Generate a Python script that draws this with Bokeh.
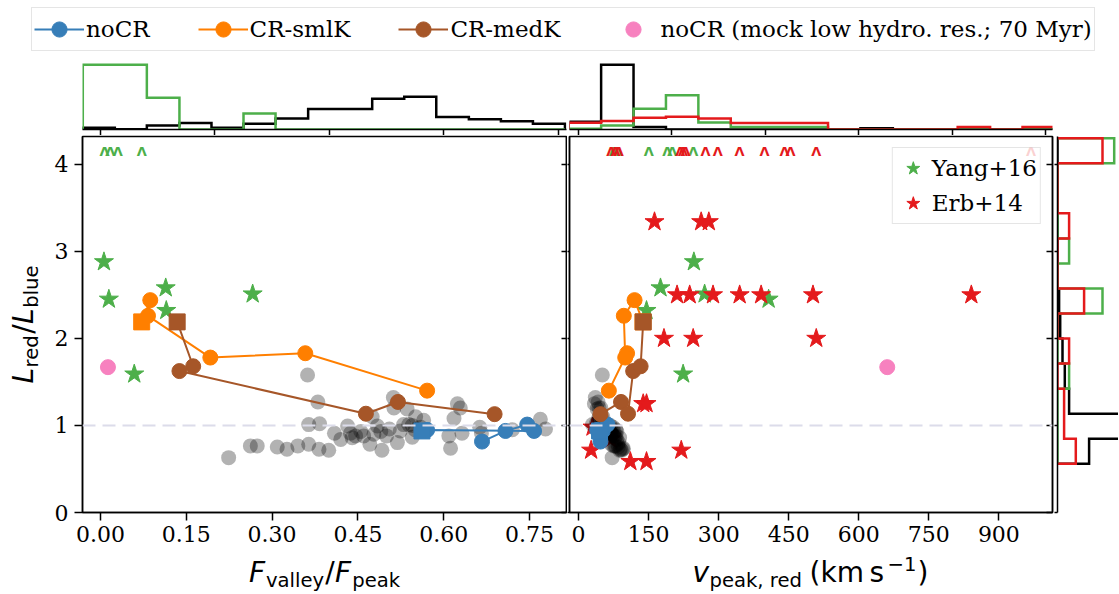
import numpy as np
from bokeh.plotting import figure
from bokeh.models import (Range1d, FixedTicker, PrintfTickFormatter, LinearAxis,
                          Legend, LegendItem, Span)
from bokeh.layouts import column, row
from bokeh.embed import file_html
from bokeh.resources import INLINE
from bokeh.core.properties import value

SERIF = "DejaVu Serif"
SANS = "DejaVu Sans"

C_NOCR = "#377eb8"
C_SML = "#ff7f00"
C_MED = "#a65628"
C_PINK = "#f781bf"
C_YANG = "#4daf4a"
C_ERB = "#e41a1c"

# ---------------- data ----------------
# simulation tracks (last point of each track = square marker)
nocr_fv = [0.667, 0.708, 0.746, 0.758, 0.571, 0.562]
nocr_v = [47, 52, 62, 43, 40, 45]
nocr_lr = [0.815, 0.937, 1.01, 0.937, 0.948, 0.937]

sml_fv = [0.571, 0.358, 0.192, 0.083, 0.087, 0.072]
sml_v = [65, 104, 100, 97, 120, 138]
sml_lr = [1.40, 1.83, 1.78, 2.26, 2.44, 2.19]

med_fv = [0.689, 0.520, 0.464, 0.138, 0.162, 0.134]
med_v = [47, 91, 106, 117, 133, 138.5]
med_lr = [1.13, 1.27, 1.135, 1.625, 1.68, 2.19]

# mock low resolution noCR
mock_fv = [0.013]
mock_v = [661]
mock_lr = [1.67]

# individual simulation snapshots (grey)
snap_fv = [0.224, 0.262, 0.274, 0.309, 0.326, 0.345, 0.364, 0.382, 0.399, 0.362,
           0.380, 0.364, 0.383, 0.409, 0.420, 0.432, 0.437, 0.446, 0.460, 0.471,
           0.475, 0.478, 0.484, 0.492, 0.500, 0.512, 0.513, 0.519, 0.524, 0.530,
           0.536, 0.539, 0.545, 0.551, 0.565, 0.609, 0.612, 0.618, 0.624, 0.629,
           0.632, 0.663, 0.666, 0.720, 0.769, 0.778, 0.545, 0.560, 0.550, 0.490,
           0.505, 0.455, 0.440]
snap_lr = [0.63, 0.765, 0.765, 0.753, 0.727, 0.765, 0.784, 0.727, 0.716, 1.58,
           1.27, 1.01, 1.02, 0.91, 0.84, 0.994, 0.91, 0.88, 0.88, 0.784,
           1.10, 0.899, 0.994, 0.716, 0.88, 1.32, 1.20, 0.803, 0.937, 1.01,
           1.19, 1.01, 0.864, 1.10, 1.06, 0.88, 0.738, 1.08, 1.25, 1.20,
           0.91, 0.98, 0.91, 0.95, 1.07, 0.96, 1.00, 0.98, 0.95, 0.93,
           0.96, 0.93, 0.86]
snap_v = [72, 80, 78, 85, 90, 75, 70, 95, 88, 51,
          42, 30, 38, 65, 82, 60, 70, 76, 68, 84,
          45, 72, 58, 92, 80, 36, 48, 86, 66, 55,
          40, 62, 78, 52, 46, 74, 96, 50, 34, 44,
          70, 56, 64, 60, 42, 54, 68, 74, 80, 76,
          70, 82, 88]

# Yang+16 observations
yang_fv = [0.006, 0.0146, 0.114, 0.115, 0.266, 0.059]
yang_v = [247, 407, 175.5, 145.6, 270, 224]
yang_lr = [2.88, 2.45, 2.58, 2.32, 2.51, 1.59]
yang_lim_fv = [0.007, 0.017, 0.030, 0.072]
yang_lim_v = [75.6, 84, 150.5, 190, 200.6, 245.5]

# Erb+14 observations
erb_v = [162.7, 262.6, 279, 211, 238, 288, 345, 391, 502, 841,
         183, 245.5, 509, 138.5, 145.6, 220, 27, 111, 145.6, 68.5, 30]
erb_lr = [3.34, 3.34, 3.34, 2.50, 2.50, 2.50, 2.50, 2.50, 2.50, 2.50,
          2.0, 2.0, 2.0, 1.25, 1.25, 0.715, 0.715, 0.585, 0.585, 0.84, 0.98]
erb_lim_v = [70, 79, 86, 218, 224, 229, 272, 298, 345, 398, 441, 454, 509, 969]
LIM_Y = 4.15   # where the limits are drawn

# histograms (step)
h_fv_edges = [-0.031, 0.025, 0.081, 0.138, 0.194, 0.250, 0.306, 0.363, 0.419,
              0.475, 0.531, 0.587, 0.644, 0.700, 0.756, 0.812]
h_fv_sim = [0.17, 0.03, 0.40, 0.65, 0.17, 0.58, 1.10, 2.05, 2.05, 3.08, 3.30,
            1.26, 1.03, 0.82, 0.58]
h_fv_yang = [6.5, 6.5, 3.2, 0, 0, 1.6, 0, 0, 0, 0, 0, 0, 0, 0, 0]

h_v_edges = [-21, 48.4, 117.8, 187.2, 256.6, 326, 395.4, 464.8, 534.2, 603.6,
             673, 742.4, 811.8, 881.2, 950.6, 1020]
h_v_sim = [12, 100, 4, 0, 0, 0, 0, 0, 0, 2, 0, 0, 0, 0, 0]
h_v_yang = [1, 6, 32, 53, 11, 4, 4, 4, 0, 0, 0, 0, 0, 0, 0]
h_v_erb = [10.5, 13, 18, 19.5, 17, 10, 10, 10, 0, 0, 0, 0, 3.7, 0, 3.7]

h_lr_edges = [0.56, 0.848, 1.135, 1.423, 1.711, 1.998, 2.286, 2.574, 2.862,
              3.149, 3.437, 3.725, 4.013, 4.30]
h_lr_sim = [3.16, 6.8, 1.16, 0.73, 0.5, 0.27, 0.16, 0, 0, 0, 0, 0, 0]
h_lr_yang = [0, 0, 0, 1.16, 0, 0, 4.5, 0, 1.16, 0, 0, 0, 5.67]
h_lr_erb = [1.83, 0.66, 0.66, 0, 1.16, 0, 2.66, 0, 0, 1.16, 0, 0, 4.5]

fv_ticks = [0, 0.15, 0.30, 0.45, 0.60, 0.75]
v_ticks = [0, 150, 300, 450, 600, 750, 900]
lr_ticks = [0, 1, 2, 3, 4]

# ---------------- helpers ----------------
def make_fig(xr, yr, fw, fh, bl, br, bt, bb):
    p = figure(x_range=xr, y_range=yr, frame_width=fw, frame_height=fh,
               min_border_left=bl, min_border_right=br, min_border_top=bt,
               min_border_bottom=bb, toolbar_location=None, output_backend="svg",
               x_axis_location=None, y_axis_location=None)
    p.grid.visible = False
    p.outline_line_color = None
    p.background_fill_color = "white"
    p.border_fill_color = "white"
    return p


def add_axis(p, place, ticks, labels=True, tick_out=8, tick_in=0, fmt=None, standoff=6):
    ax = LinearAxis()
    ax.ticker = FixedTicker(ticks=ticks, minor_ticks=[])
    ax.major_tick_out = tick_out
    ax.major_tick_in = tick_in
    ax.minor_tick_line_color = None
    ax.major_tick_line_width = 1.5
    ax.major_tick_line_color = "black"
    ax.axis_line_width = 1.5
    ax.axis_line_color = "black"
    if labels:
        ax.major_label_text_font = SERIF
        ax.major_label_text_font_size = "22px"
        ax.major_label_text_color = "black"
        ax.major_label_standoff = standoff
    else:
        ax.major_label_text_color = None
        ax.major_label_standoff = 0
    if fmt is not None:
        ax.formatter = fmt
    p.add_layout(ax, place)
    return ax


def step_h(edges, vals):
    xs = np.repeat(np.asarray(edges, float), 2)
    ys = np.concatenate([[0.0], np.repeat(np.asarray(vals, float), 2), [0.0]])
    return xs, ys


K_BASE = 0.36   # measured offset of the drawn baseline, in em


def put_pieces(p, pieces, x0, y0, vertical=False):
    """pieces: (text, size, italic, shift, advance), placed in pixel-data units;
    (x0, y0) is the wanted baseline start of the main-size text."""
    pos = 0.0
    for text, size, italic, shift, adv in pieces:
        corr = K_BASE * size
        if vertical:
            x, y, ang = x0 + shift - corr, y0 + pos, np.pi / 2
        else:
            x, y, ang = x0 + pos, y0 + shift + corr, 0.0
        p.text(x=[x], y=[y], text=[text], angle=ang,
               text_font=value(SANS), text_font_size="%.1fpx" % size,
               text_font_style="italic" if italic else "normal",
               text_color="black", text_align="left", text_baseline="alphabetic")
        pos += adv


# ---------------- layout sizes (px) ----------------
W = 1118
H_LEG, H_TOP = 60, 75
YLAB_W = 48
FRAME_H = 376
BB_MAIN = 41
H_MAIN = 1 + FRAME_H + BB_MAIN
H_XLAB = 593 - H_LEG - H_TOP - H_MAIN
S, s = 28.0, 19.6

y_rng = Range1d(0, 4.32)
fv_rng = Range1d(-0.0315, 0.8147)
v_rng = Range1d(-19.3, 1014.8)

# legend row -------------------------------------------------------------
pLeg = make_fig(Range1d(0, 1), Range1d(0, 5), W, H_LEG, 0, 0, 0, 0)
lr1 = pLeg.line(nocr_fv, nocr_lr, line_color=C_NOCR, line_width=2, visible=False)
ls1 = pLeg.scatter(nocr_fv, nocr_lr, marker="circle", size=15, fill_color=C_NOCR,
                   line_color=C_NOCR, visible=False)
lr2 = pLeg.line(sml_fv, sml_lr, line_color=C_SML, line_width=2, visible=False)
ls2 = pLeg.scatter(sml_fv, sml_lr, marker="circle", size=15, fill_color=C_SML,
                   line_color=C_SML, visible=False)
lr3 = pLeg.line(med_fv, med_lr, line_color=C_MED, line_width=2, visible=False)
ls3 = pLeg.scatter(med_fv, med_lr, marker="circle", size=15, fill_color=C_MED,
                   line_color=C_MED, visible=False)
ls4 = pLeg.scatter(mock_fv, mock_lr, marker="circle", size=15, fill_color=C_PINK,
                   line_color=C_PINK, visible=False)
top_leg = Legend(items=[LegendItem(label="noCR", renderers=[lr1, ls1]),
                        LegendItem(label="CR-smlK", renderers=[lr2, ls2]),
                        LegendItem(label="CR-medK", renderers=[lr3, ls3]),
                        LegendItem(label="noCR (mock low hydro. res.; 70 Myr)", renderers=[ls4])],
                 location=(31, 9), orientation="horizontal")
top_leg.label_text_font = SERIF
top_leg.label_text_font_size = "23px"
top_leg.label_text_color = "black"
top_leg.label_standoff = 2
top_leg.glyph_width = 50
top_leg.glyph_height = 38
top_leg.label_height = 36
top_leg.spacing = 48
top_leg.padding = 2
top_leg.margin = 0
top_leg.border_line_color = "#cccccc"
top_leg.border_line_width = 1.5
top_leg.background_fill_alpha = 0.8
top_leg.inactive_fill_alpha = 0
pLeg.add_layout(top_leg)

# top histograms -----------------------------------------------------------
pTL = make_fig(fv_rng, Range1d(0, 6.83), 484, 68, 82, 1, 1, 6)
add_axis(pTL, "below", [0, 0.2, 0.4, 0.6, 0.8], labels=False, tick_out=6)
x, y = step_h(h_fv_edges, h_fv_sim)
pTL.line(x, y, line_color="black", line_width=2.5, line_join="miter")
x, y = step_h(h_fv_edges, h_fv_yang)
pTL.line(x, y, line_color=C_YANG, line_width=2.5, line_join="miter")

pTR = make_fig(v_rng, Range1d(0, 105), 483, 68, 2, 2, 1, 6)
add_axis(pTR, "below", [0, 200, 400, 600, 800, 1000], labels=False, tick_out=6)
for vals, col in ((h_v_sim, "black"), (h_v_yang, C_YANG), (h_v_erb, C_ERB)):
    x, y = step_h(h_v_edges, vals)
    pTR.line(x, y, line_color=col, line_width=2.5, line_join="miter")

# main left panel ----------------------------------------------------------
pL = make_fig(fv_rng, y_rng, 484, FRAME_H, 82 - YLAB_W, 1, 1, BB_MAIN)
pL.outline_line_color = "black"
pL.outline_line_width = 1.5
add_axis(pL, "below", fv_ticks, fmt=PrintfTickFormatter(format="%.2f"), standoff=5)
add_axis(pL, "left", lr_ticks, standoff=6)
add_axis(pL, "right", lr_ticks, labels=False, tick_out=0, tick_in=5)
pL.add_layout(Span(location=1, dimension="width", line_color="#dcdcea",
                   line_width=2, line_dash="13 7"))

# main right panel ---------------------------------------------------------
pR = make_fig(v_rng, y_rng, 483, FRAME_H, 2, 2, 1, BB_MAIN)
pR.outline_line_color = "black"
pR.outline_line_width = 1.5
add_axis(pR, "below", v_ticks, standoff=5)
add_axis(pR, "left", lr_ticks, labels=False, tick_out=2)
add_axis(pR, "right", lr_ticks, labels=False, tick_out=0, tick_in=6)
pR.add_layout(Span(location=1, dimension="width", line_color="#dcdcea",
                   line_width=2, line_dash="13 7"))

STAR = 20
ARW = dict(text_font=value(SANS), text_font_size="13px", text_font_style="bold",
           text_align="center", text_baseline="middle")
# observations
pL.scatter(yang_fv, yang_lr, marker="star", size=STAR, fill_color=C_YANG, line_color=C_YANG)
pL.text(x=yang_lim_fv, y=[LIM_Y] * len(yang_lim_fv), text=["Λ"] * len(yang_lim_fv),
        text_color=C_YANG, **ARW)
r_yang = pR.scatter(yang_v, yang_lr, marker="star", size=STAR, fill_color=C_YANG, line_color=C_YANG)
r_erb = pR.scatter(erb_v, erb_lr, marker="star", size=STAR, fill_color=C_ERB, line_color=C_ERB)
pR.text(x=yang_lim_v, y=[LIM_Y] * len(yang_lim_v), text=["Λ"] * len(yang_lim_v),
        text_color=C_YANG, **ARW)
pR.text(x=erb_lim_v, y=[LIM_Y] * len(erb_lim_v), text=["Λ"] * len(erb_lim_v),
        text_color=C_ERB, **ARW)

# snapshots
for p, xs in ((pL, snap_fv), (pR, snap_v)):
    p.scatter(xs, snap_lr, marker="circle", size=15, fill_color="black",
              fill_alpha=0.3, line_color=None)

# tracks
tracks = [(nocr_fv, nocr_v, nocr_lr, C_NOCR), (sml_fv, sml_v, sml_lr, C_SML),
          (med_fv, med_v, med_lr, C_MED)]
for fv, vv, lr, col in tracks:
    for p, xs in ((pL, fv), (pR, vv)):
        p.line(xs, lr, line_color=col, line_width=2)
        p.scatter(xs[:-1], lr[:-1], marker="circle", size=15, fill_color=col, line_color=col)
        p.scatter(xs[-1:], lr[-1:], marker="square", size=16, fill_color=col, line_color=col)

pL.scatter(mock_fv, mock_lr, marker="circle", size=15, fill_color=C_PINK, line_color=C_PINK)
pR.scatter(mock_v, mock_lr, marker="circle", size=15, fill_color=C_PINK, line_color=C_PINK)

obs_leg = Legend(items=[LegendItem(label="Yang+16", renderers=[r_yang]),
                        LegendItem(label="Erb+14", renderers=[r_erb])],
                 location="top_right")
obs_leg.label_text_font = SERIF
obs_leg.label_text_font_size = "23px"
obs_leg.label_text_color = "black"
obs_leg.glyph_width = 34
obs_leg.glyph_height = 34
obs_leg.label_height = 34
obs_leg.label_standoff = 2
obs_leg.spacing = 1
obs_leg.padding = 3
obs_leg.margin = 11
obs_leg.border_line_color = "#cccccc"
obs_leg.border_line_width = 1.5
obs_leg.background_fill_alpha = 0.8
pR.add_layout(obs_leg)

# right histogram ----------------------------------------------------------
H_FRAME_W = W - YLAB_W - (82 - YLAB_W + 484 + 1) - (2 + 483 + 2) - 3
pH = make_fig(Range1d(0, H_FRAME_W / 10.0), y_rng, H_FRAME_W, FRAME_H, 3, 0, 1, BB_MAIN)
add_axis(pH, "left", lr_ticks, labels=False, tick_out=3)
for vals, col in ((h_lr_sim, "black"), (h_lr_yang, C_YANG), (h_lr_erb, C_ERB)):
    yy, xx = step_h(h_lr_edges, vals)
    pH.line(xx, yy, line_color=col, line_width=2.5, line_join="miter")

# axis-label strips (pixel coordinates) --------------------------------------
pY = make_fig(Range1d(0, YLAB_W), Range1d(0, H_MAIN), YLAB_W, H_MAIN, 0, 0, 0, 0)
put_pieces(pY, [("L", S, True, 0, 16.1), ("red", s, False, 5, 33.6),
                ("/", S, False, 0, 9.9), ("L", S, True, 0, 16.1),
                ("blue", s, False, 5, 42.4)], 33, BB_MAIN + 130, vertical=True)

# x labels: main baseline 11 px above the bottom of the page
pX = make_fig(Range1d(0, W), Range1d(0, H_XLAB), W, H_XLAB, 0, 0, 0, 0)
put_pieces(pX, [("F", S, True, 0, 17.1), ("valley", s, False, -5, 59.2),
                ("/", S, False, 0, 9.9), ("F", S, True, 0, 17.1),
                ("peak", s, False, -5, 47.9)], 324 - 75.6, 11)
put_pieces(pX, [("v", S, True, 0, 17.1), ("peak, red", s, False, -5, 100.0),
                (" (km\u2009s", S, False, 0, 78.0), ("\u22121", s, False, 11, 29.9),
                (")", S, False, 0, 10.9)], 810.5 - 118.6, 11)

layout = column(pLeg, row(pTL, pTR), row(pY, pL, pR, pH), pX)
open("out.html", "w").write(file_html(layout, INLINE))
